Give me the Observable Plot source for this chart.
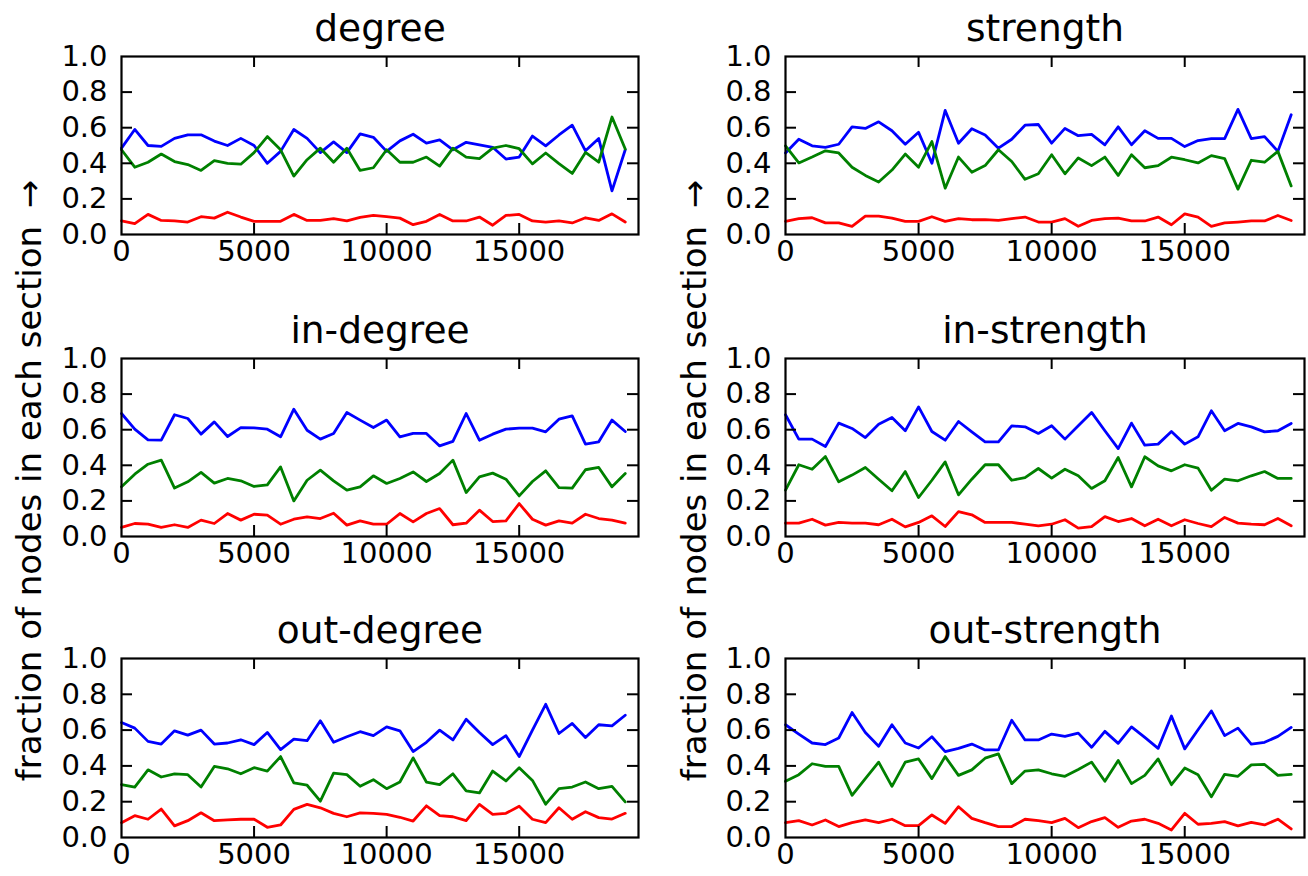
<!DOCTYPE html>
<html>
<head>
<meta charset="utf-8">
<script src="https://cdn.jsdelivr.net/npm/d3@7"></script>
<script src="https://cdn.jsdelivr.net/npm/@observablehq/plot@0.6"></script>
<style>
  html, body { margin: 0; padding: 0; background: white; }
  #wrap { position: relative; width: 1308px; height: 876px; overflow: hidden; background: white; }
  #wrap svg { position: absolute; }
</style>
</head>
<body>
<div id="wrap"></div>
<script>
// x positions of samples (every 500 nodes)
const xs = d3.range(0, 19001, 500);
const xTicks = [0, 5000, 10000, 15000];
const yTicks = [0, 0.2, 0.4, 0.6, 0.8, 1.0];
const yLabel = "fraction of nodes in each section \u2009→";

// degree
const degreeBlue = [0.485,0.59,0.50,0.495,0.54,0.56,0.56,0.525,0.50,0.54,0.50,0.40,0.467,0.59,0.54,0.46,0.52,0.46,0.565,0.546,0.467,0.526,0.563,0.513,0.531,0.476,0.518,0.504,0.49,0.424,0.435,0.553,0.498,0.559,0.614,0.47,0.539,0.245,0.476];
const degreeGreen = [0.476,0.378,0.406,0.452,0.41,0.393,0.36,0.415,0.40,0.395,0.46,0.55,0.476,0.328,0.42,0.485,0.406,0.485,0.36,0.375,0.476,0.406,0.406,0.435,0.384,0.485,0.435,0.426,0.485,0.50,0.482,0.397,0.458,0.398,0.343,0.461,0.406,0.66,0.48];
const degreeRed = [0.076,0.061,0.113,0.079,0.077,0.07,0.10,0.092,0.125,0.098,0.074,0.074,0.074,0.113,0.079,0.079,0.089,0.076,0.096,0.107,0.10,0.092,0.055,0.074,0.113,0.076,0.076,0.098,0.052,0.107,0.113,0.076,0.07,0.076,0.065,0.094,0.079,0.116,0.07];

// strength
const strengthBlue = [0.458,0.535,0.498,0.49,0.507,0.605,0.596,0.633,0.583,0.507,0.574,0.40,0.697,0.513,0.594,0.559,0.485,0.535,0.614,0.618,0.513,0.596,0.555,0.563,0.504,0.605,0.504,0.583,0.54,0.54,0.494,0.528,0.539,0.539,0.703,0.539,0.55,0.467,0.673];
const strengthGreen = [0.498,0.402,0.435,0.47,0.458,0.378,0.332,0.295,0.362,0.452,0.378,0.522,0.26,0.435,0.35,0.387,0.476,0.41,0.31,0.341,0.448,0.341,0.43,0.387,0.435,0.332,0.448,0.375,0.387,0.434,0.42,0.402,0.443,0.426,0.255,0.417,0.406,0.467,0.273];
const strengthRed = [0.074,0.089,0.094,0.065,0.065,0.046,0.103,0.103,0.092,0.074,0.074,0.10,0.074,0.089,0.083,0.083,0.079,0.089,0.098,0.07,0.07,0.089,0.046,0.079,0.089,0.092,0.076,0.076,0.098,0.055,0.116,0.098,0.046,0.065,0.07,0.076,0.076,0.107,0.079];

// in-degree
const inDegreeBlue = [0.691,0.603,0.543,0.541,0.684,0.663,0.575,0.644,0.562,0.612,0.61,0.603,0.56,0.715,0.597,0.547,0.579,0.697,0.654,0.612,0.654,0.56,0.579,0.579,0.509,0.534,0.691,0.541,0.575,0.603,0.609,0.609,0.588,0.659,0.678,0.519,0.532,0.654,0.59];
const inDegreeGreen = [0.279,0.35,0.406,0.429,0.272,0.307,0.36,0.30,0.326,0.313,0.281,0.29,0.391,0.20,0.316,0.373,0.313,0.26,0.279,0.341,0.298,0.326,0.363,0.309,0.354,0.429,0.247,0.335,0.356,0.322,0.228,0.309,0.369,0.275,0.272,0.375,0.388,0.279,0.354];
const inDegreeRed = [0.051,0.073,0.069,0.051,0.066,0.051,0.092,0.073,0.129,0.092,0.125,0.12,0.069,0.097,0.11,0.101,0.131,0.064,0.088,0.069,0.069,0.129,0.082,0.129,0.157,0.066,0.075,0.148,0.084,0.088,0.185,0.097,0.064,0.088,0.075,0.125,0.101,0.092,0.075];

// in-strength
const inStrengthBlue = [0.684,0.547,0.547,0.506,0.637,0.607,0.556,0.631,0.669,0.594,0.728,0.59,0.541,0.646,0.588,0.532,0.532,0.622,0.616,0.579,0.622,0.547,0.622,0.697,0.594,0.494,0.637,0.513,0.519,0.59,0.519,0.56,0.706,0.594,0.635,0.616,0.588,0.594,0.635];
const inStrengthGreen = [0.26,0.403,0.378,0.449,0.307,0.345,0.388,0.322,0.257,0.365,0.219,0.316,0.419,0.234,0.322,0.403,0.403,0.316,0.331,0.382,0.328,0.378,0.341,0.27,0.313,0.444,0.279,0.448,0.397,0.369,0.403,0.384,0.26,0.322,0.313,0.341,0.365,0.326,0.326];
const inStrengthRed = [0.075,0.075,0.097,0.064,0.079,0.075,0.075,0.066,0.097,0.054,0.079,0.116,0.056,0.14,0.122,0.079,0.079,0.079,0.069,0.06,0.069,0.094,0.047,0.056,0.112,0.084,0.101,0.06,0.097,0.06,0.094,0.073,0.056,0.107,0.075,0.069,0.066,0.101,0.06];

// out-degree
const outDegreeBlue = [0.642,0.611,0.537,0.522,0.596,0.572,0.60,0.522,0.528,0.546,0.519,0.587,0.491,0.55,0.541,0.652,0.532,0.563,0.591,0.569,0.618,0.596,0.48,0.532,0.60,0.545,0.661,0.587,0.519,0.569,0.452,0.60,0.744,0.581,0.637,0.559,0.63,0.624,0.683];
const outDegreeGreen = [0.295,0.282,0.378,0.338,0.356,0.351,0.282,0.397,0.384,0.356,0.39,0.371,0.452,0.305,0.292,0.203,0.36,0.351,0.286,0.323,0.273,0.31,0.445,0.31,0.295,0.356,0.26,0.249,0.371,0.316,0.39,0.319,0.186,0.273,0.282,0.31,0.273,0.286,0.199];
const outDegreeRed = [0.083,0.122,0.102,0.159,0.065,0.094,0.138,0.094,0.098,0.102,0.102,0.057,0.07,0.157,0.185,0.166,0.135,0.116,0.138,0.135,0.129,0.113,0.092,0.177,0.122,0.116,0.094,0.185,0.129,0.135,0.175,0.102,0.083,0.166,0.102,0.144,0.111,0.103,0.135];

// out-strength
const outStrengthBlue = [0.63,0.578,0.528,0.519,0.556,0.698,0.587,0.51,0.63,0.528,0.50,0.563,0.48,0.498,0.522,0.489,0.489,0.655,0.545,0.545,0.578,0.565,0.583,0.504,0.593,0.526,0.618,0.559,0.498,0.679,0.495,0.602,0.707,0.569,0.611,0.522,0.532,0.565,0.615];
const outStrengthGreen = [0.314,0.351,0.412,0.397,0.397,0.236,0.329,0.421,0.286,0.421,0.439,0.329,0.452,0.347,0.378,0.443,0.467,0.301,0.371,0.378,0.356,0.342,0.38,0.421,0.314,0.43,0.301,0.347,0.439,0.295,0.388,0.351,0.227,0.353,0.342,0.406,0.408,0.347,0.353];
const outStrengthRed = [0.083,0.094,0.07,0.098,0.061,0.083,0.098,0.083,0.102,0.066,0.066,0.126,0.079,0.172,0.107,0.083,0.061,0.061,0.102,0.094,0.083,0.107,0.055,0.089,0.111,0.057,0.092,0.102,0.079,0.042,0.135,0.074,0.079,0.089,0.065,0.085,0.07,0.102,0.048];

const panels = [
  {title: "degree",       series: [degreeBlue, degreeGreen, degreeRed],             left: 0,   top: 0,   mL: 121, mR: 16, mT: 56, mB: 58, ylab: false},
  {title: "strength",     series: [strengthBlue, strengthGreen, strengthRed],       left: 654, top: 0,   mL: 131, mR: 4,  mT: 56, mB: 58, ylab: false},
  {title: "in-degree",    series: [inDegreeBlue, inDegreeGreen, inDegreeRed],       left: 0,   top: 292, mL: 121, mR: 16, mT: 66, mB: 48, ylab: true},
  {title: "in-strength",  series: [inStrengthBlue, inStrengthGreen, inStrengthRed], left: 654, top: 292, mL: 131, mR: 4,  mT: 66, mB: 48, ylab: true},
  {title: "out-degree",   series: [outDegreeBlue, outDegreeGreen, outDegreeRed],    left: 0,   top: 584, mL: 121, mR: 16, mT: 74, mB: 39, ylab: false},
  {title: "out-strength", series: [outStrengthBlue, outStrengthGreen, outStrengthRed], left: 654, top: 584, mL: 131, mR: 4, mT: 74, mB: 39, ylab: false}
];
const colors = ["#0000ff", "#008000", "#ff0000"];

const W = 654, H = 292;
const wrap = document.getElementById("wrap");

for (const p of panels) {
  const fw = W - p.mL - p.mR;
  const fh = H - p.mT - p.mB;
  const marks = [];
  p.series.forEach((vals, k) => {
    marks.push(Plot.lineY(vals, {x: (d, i) => xs[i], y: d => d, stroke: colors[k], strokeWidth: 2.8}));
  });
  marks.push(Plot.frame({stroke: "black", strokeWidth: 2.2}));
  const innerY = yTicks.slice(1, -1);
  const innerX = xTicks.slice(1);
  marks.push(Plot.tickY(innerY, {y: d => d, insetRight: fw - 11, stroke: "black", strokeWidth: 2}));
  marks.push(Plot.tickY(innerY, {y: d => d, insetLeft: fw - 11, stroke: "black", strokeWidth: 2}));
  marks.push(Plot.tickX(innerX, {x: d => d, insetTop: fh - 11, stroke: "black", strokeWidth: 2}));
  marks.push(Plot.tickX(innerX, {x: d => d, insetBottom: fh - 11, stroke: "black", strokeWidth: 2}));
  marks.push(Plot.axisY({ticks: yTicks, tickSize: 0, tickPadding: 14, tickFormat: d => d.toFixed(1), fontSize: 29, label: null}));
  marks.push(Plot.axisX({ticks: xTicks, tickSize: 0, tickPadding: 6, tickFormat: d => String(d), fontSize: 29, label: null}));
  marks.push(Plot.text([p.title], {frameAnchor: "top", dy: -28, fontSize: 37.5, lineAnchor: "middle", fill: "black"}));
  if (p.ylab) {
    marks.push(Plot.text([yLabel], {frameAnchor: "left", rotate: -90, dx: (p.left === 0 ? 30 : 695) - (p.left + p.mL), dy: 33, fontSize: 34, textAnchor: "middle", lineAnchor: "middle", fill: "black"}));
  }
  const chart = Plot.plot({
    width: W, height: H,
    marginLeft: p.mL, marginRight: p.mR, marginTop: p.mT, marginBottom: p.mB,
    style: {fontFamily: "DejaVu Sans", background: "transparent", overflow: "visible", color: "black"},
    x: {domain: [0, 19500]},
    y: {domain: [0, 1]},
    marks
  });
  chart.style.left = p.left + "px";
  chart.style.top = p.top + "px";
  wrap.appendChild(chart);
}
</script>
</body>
</html>
